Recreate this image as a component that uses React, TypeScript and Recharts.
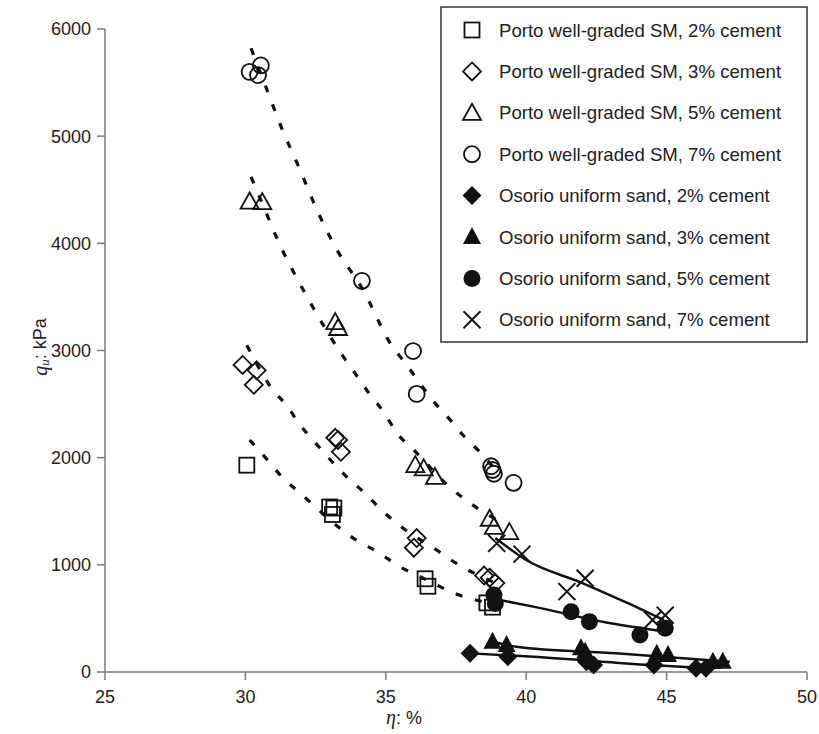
import React from "react";
import { ScatterChart, Scatter, XAxis, YAxis } from "recharts";

type Pair = [number, number];

const X_TICKS = [25, 30, 35, 40, 45, 50];
const Y_TICKS = [0, 1000, 2000, 3000, 4000, 5000, 6000];

// measured points (eta %, qu kPa)
const porto2: Pair[] = [[30.05, 1930], [33.0, 1540], [33.15, 1530], [33.1, 1470], [36.4, 870], [36.5, 800], [38.6, 645], [38.8, 605]];
const porto3: Pair[] = [[29.9, 2865], [30.4, 2815], [30.3, 2680], [33.2, 2185], [33.3, 2165], [33.4, 2055], [36.1, 1250], [36.0, 1160], [38.5, 900], [38.7, 880], [38.9, 830]];
const porto5: Pair[] = [[30.15, 4390], [30.6, 4385], [33.2, 3265], [33.3, 3210], [36.05, 1930], [36.35, 1900], [36.75, 1820], [38.7, 1430], [38.85, 1355], [39.4, 1305]];
const porto7: Pair[] = [[30.15, 5600], [30.55, 5660], [30.45, 5570], [34.15, 3650], [35.97, 2995], [36.1, 2595], [38.75, 1920], [38.8, 1885], [38.85, 1850], [39.55, 1765]];
const osorio2: Pair[] = [[38.0, 174], [39.35, 143], [42.15, 96], [42.4, 65], [44.55, 65], [46.05, 34], [46.4, 34]];
const osorio3: Pair[] = [[38.8, 283], [39.3, 252], [41.95, 221], [42.1, 190], [44.65, 170], [45.05, 159], [46.65, 96], [47.0, 96]];
const osorio5: Pair[] = [[38.85, 718], [38.9, 640], [41.6, 562], [42.25, 470], [44.05, 345], [44.95, 408]];
const osorio7: Pair[] = [[38.95, 1200], [39.85, 1100], [41.45, 750], [42.1, 875], [44.5, 485], [44.95, 530]];

// trend lines
const fitPorto2: Pair[] = [[30.15, 2165], [30.8, 1975], [31.3, 1820], [31.95, 1670], [32.55, 1527], [33.3, 1355], [33.95, 1230], [34.7, 1122], [35.4, 998], [36.45, 860], [37.45, 734], [38.7, 640]];
const fitPorto3: Pair[] = [[30.05, 3050], [30.9, 2660], [31.5, 2475], [31.95, 2305], [32.5, 2136], [33.6, 1822], [34.25, 1670], [34.85, 1511], [35.55, 1355], [36.9, 1122], [37.5, 1016], [38.9, 830]];
const fitPorto5: Pair[] = [[30.2, 4620], [30.8, 4248], [31.1, 4061], [32.2, 3500], [33.4, 2976], [33.9, 2789], [34.4, 2602], [34.95, 2416], [35.4, 2229], [36.0, 2071], [37.2, 1744], [37.8, 1615], [39.3, 1370]];
const fitPorto7: Pair[] = [[30.2, 5820], [30.75, 5445], [31.3, 5070], [31.9, 4714], [32.5, 4340], [33.2, 3967], [34.2, 3560], [35.2, 3050], [35.7, 2880], [36.75, 2510], [37.3, 2350], [37.8, 2195], [38.4, 2040], [38.8, 1920]];
const fitOsorio2: Pair[] = [[38.0, 174], [40.25, 143], [44.4, 65], [46.5, 34]];
const fitOsorio3: Pair[] = [[38.8, 285], [39.65, 236], [43.2, 174], [47.25, 96]];
const fitOsorio5: Pair[] = [[39.0, 675], [40.25, 610], [43.0, 455], [45.0, 376]];
const fitOsorio7: Pair[] = [[38.9, 1250], [40.0, 1045], [42.0, 830], [43.5, 656], [44.9, 485]];

const toPts = (arr: Pair[]) => arr.map(([eta, qu]) => ({ eta, qu }));

type Kind = "square" | "diamond" | "triangle" | "circle" | "fdiamond" | "ftriangle" | "fcircle" | "cross";

const INK = "#111";

function Marker({ kind, cx, cy }: { kind: Kind; cx: number; cy: number }) {
  const sw = 1.8;
  switch (kind) {
    case "square":
      return <rect x={cx - 7.5} y={cy - 7.5} width={15} height={15} fill="none" stroke={INK} strokeWidth={sw} />;
    case "diamond":
      return <polygon points={`${cx},${cy - 9} ${cx + 9},${cy} ${cx},${cy + 9} ${cx - 9},${cy}`} fill="none" stroke={INK} strokeWidth={sw} />;
    case "triangle":
      return <polygon points={`${cx},${cy - 9} ${cx + 9},${cy + 7} ${cx - 9},${cy + 7}`} fill="none" stroke={INK} strokeWidth={sw} />;
    case "circle":
      return <circle cx={cx} cy={cy} r={8} fill="none" stroke={INK} strokeWidth={sw} />;
    case "fdiamond":
      return <polygon points={`${cx},${cy - 9.5} ${cx + 9.5},${cy} ${cx},${cy + 9.5} ${cx - 9.5},${cy}`} fill={INK} />;
    case "ftriangle":
      return <polygon points={`${cx},${cy - 10} ${cx + 9},${cy + 7} ${cx - 9},${cy + 7}`} fill={INK} />;
    case "fcircle":
      return <circle cx={cx} cy={cy} r={8.5} fill={INK} />;
    case "cross":
      return (
        <g stroke={INK} strokeWidth={2}>
          <line x1={cx - 8.5} y1={cy - 8.5} x2={cx + 8.5} y2={cy + 8.5} />
          <line x1={cx - 8.5} y1={cy + 8.5} x2={cx + 8.5} y2={cy - 8.5} />
        </g>
      );
  }
  return null;
}

const SERIES: { name: string; kind: Kind; data: Pair[] }[] = [
  { name: "Porto well-graded SM, 2% cement", kind: "square", data: porto2 },
  { name: "Porto well-graded SM, 3% cement", kind: "diamond", data: porto3 },
  { name: "Porto well-graded SM, 5% cement", kind: "triangle", data: porto5 },
  { name: "Porto well-graded SM, 7% cement", kind: "circle", data: porto7 },
  { name: "Osorio uniform sand, 2% cement", kind: "fdiamond", data: osorio2 },
  { name: "Osorio uniform sand, 3% cement", kind: "ftriangle", data: osorio3 },
  { name: "Osorio uniform sand, 5% cement", kind: "fcircle", data: osorio5 },
  { name: "Osorio uniform sand, 7% cement", kind: "cross", data: osorio7 },
];

const DASHED = [fitPorto2, fitPorto3, fitPorto5, fitPorto7];
const SOLID = [fitOsorio2, fitOsorio3, fitOsorio5, fitOsorio7];

const FONT = "'Liberation Sans', Arial, sans-serif";
const SERIF = "'Liberation Serif', 'Times New Roman', serif";
const AXIS = "#7a7a7a";

const noDot = () => <g />;

function Legend() {
  return (
    <svg width={368} height={337} style={{ position: "absolute", left: 440, top: 6 }}>
      <rect x={1} y={1} width={366} height={335} fill="#fff" stroke="#333" strokeWidth={1.5} />
      {SERIES.map((s, i) => {
        const y = 24 + i * 41.4;
        return (
          <g key={s.name}>
            <Marker kind={s.kind} cx={32} cy={y} />
            <text x={59} y={y} dominantBaseline="central" fontFamily={FONT} fontSize={18.6} fill="#222">
              {s.name}
            </text>
          </g>
        );
      })}
    </svg>
  );
}

export default function App() {
  return (
    <div style={{ position: "absolute", left: 0, top: 0, width: 819, height: 734, background: "#fff", overflow: "hidden" }}>
      <ScatterChart width={819} height={734} margin={{ top: 29, right: 12, bottom: 22, left: 45 }}>
        <XAxis
          type="number"
          dataKey="eta"
          domain={[25, 50]}
          ticks={X_TICKS}
          height={40}
          stroke={AXIS}
          strokeWidth={1.5}
          tickSize={8}
          tickMargin={10}
          tick={{ fill: "#222", fontSize: 18, fontFamily: FONT }}
          label={{
            content: () => (
              <text x={404} y={724} textAnchor="middle" fontSize={18} fill="#222" fontFamily={FONT}>
                <tspan fontFamily={SERIF} fontStyle="italic" fontSize={20}>η</tspan>
                <tspan>: %</tspan>
              </text>
            ),
          }}
        />
        <YAxis
          type="number"
          dataKey="qu"
          domain={[0, 6000]}
          ticks={Y_TICKS}
          width={60}
          stroke={AXIS}
          strokeWidth={1.5}
          tickSize={8}
          tickMargin={6}
          tick={{ fill: "#222", fontSize: 18, fontFamily: FONT }}
          label={{
            content: () => (
              <text
                x={40}
                y={347}
                transform="rotate(-90, 40, 347)"
                textAnchor="middle"
                dominantBaseline="central"
                fontSize={18}
                fill="#222"
                fontFamily={FONT}
              >
                <tspan fontFamily={SERIF} fontStyle="italic" fontSize={20}>q</tspan>
                <tspan fontFamily={SERIF} fontStyle="italic" fontSize={13} dy={4}>u</tspan>
                <tspan dy={-4}>: kPa</tspan>
              </text>
            ),
          }}
        />
        {DASHED.map((d, i) => (
          <Scatter
            key={`dash${i}`}
            data={toPts(d)}
            line={{ stroke: INK, strokeWidth: 3.2, strokeDasharray: "7 13" }}
            lineJointType="monotoneX"
            shape={noDot}
            isAnimationActive={false}
          />
        ))}
        {SOLID.map((d, i) => (
          <Scatter
            key={`solid${i}`}
            data={toPts(d)}
            line={{ stroke: INK, strokeWidth: 2.5 }}
            lineJointType="monotoneX"
            shape={noDot}
            isAnimationActive={false}
          />
        ))}
        {SERIES.map((s) => (
          <Scatter
            key={s.name}
            name={s.name}
            data={toPts(s.data)}
            shape={(p: any) => <Marker kind={s.kind} cx={p.cx} cy={p.cy} />}
            isAnimationActive={false}
          />
        ))}
      </ScatterChart>
      <Legend />
    </div>
  );
}
